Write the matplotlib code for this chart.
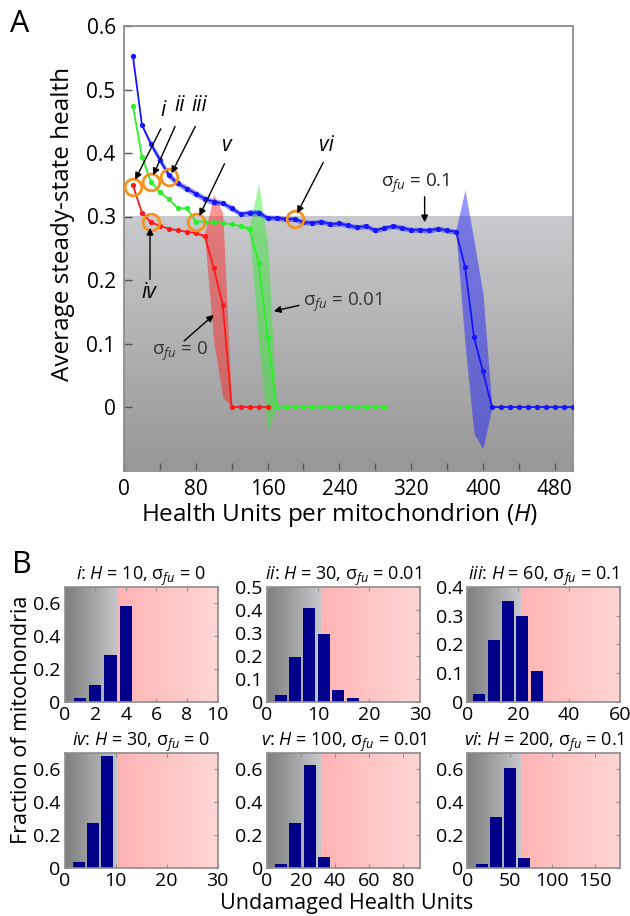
import numpy as np
import matplotlib
matplotlib.use('Agg')
import matplotlib.pyplot as plt
from matplotlib.colors import LinearSegmentedColormap

plt.rcParams['font.family'] = ['Open Sans', 'DejaVu Sans']
plt.rcParams['mathtext.fontset'] = 'custom'
plt.rcParams['mathtext.rm'] = 'Open Sans'
plt.rcParams['mathtext.it'] = 'Open Sans:italic'

# ---- panel A: average steady-state health vs H ----
H_red = [10, 20, 30, 40, 50, 60, 70, 80, 90, 100, 110, 120, 130, 140, 150, 160]
red = [0.349, 0.306, 0.291, 0.285, 0.281, 0.278, 0.276, 0.274, 0.269, 0.219, 0.161,
       0, 0, 0, 0, 0]
red_sd = [0, 0, 0, 0, 0, 0, 0, 0, 0.004, 0.116, 0.145, 0, 0, 0, 0, 0]

H_green = [10, 20, 30, 40, 50, 60, 70, 80, 90, 100, 110, 120, 130, 140, 150, 160,
           170, 180, 190, 200, 210, 220, 230, 240, 250, 260, 270, 280, 290]
green = [0.474, 0.394, 0.355, 0.338, 0.327, 0.313, 0.313, 0.292, 0.292, 0.291, 0.289,
         0.288, 0.285, 0.280, 0.227, 0.111,
         0, 0, 0, 0, 0, 0, 0, 0, 0, 0, 0, 0, 0]
green_sd = [0, 0, 0, 0, 0, 0, 0, 0, 0, 0, 0, 0, 0, 0.006, 0.125, 0.148,
            0, 0, 0, 0, 0, 0, 0, 0, 0, 0, 0, 0, 0]

H_blue = [10, 20, 30, 40, 50, 60, 70, 80, 90, 100, 110, 120, 130, 140, 150, 160, 170,
          180, 190, 200, 210, 220, 230, 240, 250, 260, 270, 280, 290, 300, 310, 320,
          330, 340, 350, 360, 370, 380, 390, 400, 410, 420, 430, 440, 450, 460, 470,
          480, 490, 500]
blue = [0.552, 0.444, 0.414, 0.389, 0.365, 0.352, 0.344, 0.336, 0.328, 0.323, 0.321,
        0.313, 0.304, 0.306, 0.306, 0.298, 0.298, 0.296, 0.296, 0.291, 0.290, 0.292,
        0.288, 0.289, 0.286, 0.283, 0.285, 0.278, 0.282, 0.285, 0.282, 0.279, 0.279,
        0.278, 0.281, 0.278, 0.276, 0.221, 0.110, 0.056,
        0, 0, 0, 0, 0, 0, 0, 0, 0, 0]
blue_sd = [0, 0.002, 0.005, 0.006, 0.006, 0.005, 0.005, 0.005, 0.005, 0.005, 0.004,
           0.005, 0.004, 0.005, 0.005, 0.004, 0.004, 0.004, 0.004, 0.004, 0.004, 0.004,
           0.004, 0.004, 0.004, 0.004, 0.004, 0.004, 0.004, 0.004, 0.004, 0.004, 0.004,
           0.004, 0.004, 0.004, 0.004, 0.121, 0.152, 0.122,
           0, 0, 0, 0, 0, 0, 0, 0, 0, 0]

# highlighted cases i..vi (position on the curves, label position, arrow start)
case_names = ['i', 'ii', 'iii', 'iv', 'v', 'vi']
case_x = [10, 30, 50, 30, 80, 190]
case_y = [0.347, 0.355, 0.362, 0.292, 0.292, 0.296]
case_lab_xy = [(44, 0.450), (62, 0.458), (84, 0.458), (28, 0.197), (115, 0.395), (226, 0.395)]
case_va = ['bottom', 'bottom', 'bottom', 'top', 'bottom', 'bottom']
case_tail = [(41, 0.438), (57, 0.442), (79.5, 0.442), (29, 0.201), (112, 0.383), (222, 0.385)]
case_head = [(12.5, 0.358), (32.5, 0.365), (53, 0.368), (29, 0.282), (84, 0.301), (193, 0.305)]

# ---- panel B: histograms ----
titles = [r'$i$: $H$ = 10, σ$_{fu}$ = 0', r'$ii$: $H$ = 30, σ$_{fu}$ = 0.01',
          r'$iii$: $H$ = 60, σ$_{fu}$ = 0.1', r'$iv$: $H$ = 30, σ$_{fu}$ = 0',
          r'$v$: $H$ = 100, σ$_{fu}$ = 0.01', r'$vi$: $H$ = 200, σ$_{fu}$ = 0.1']
bin_x = [[0, 1, 2, 3, 4],
         [0, 2.7, 5.5, 8.3, 11.2, 14.0, 16.9, 19.7],
         [0, 4.6, 10.3, 15.9, 21.6, 27.3, 33.0],
         [2.8, 5.6, 8.4],
         [8.3, 16.7, 25.1, 33.4],
         [17.4, 34.0, 50.6, 66.8]]
frac = [[0.003, 0.024, 0.104, 0.284, 0.585],
        [0.002, 0.033, 0.196, 0.408, 0.296, 0.052, 0.017, 0.002],
        [0.002, 0.027, 0.215, 0.350, 0.300, 0.108, 0.002],
        [0.040, 0.275, 0.680],
        [0.028, 0.275, 0.625, 0.065],
        [0.025, 0.308, 0.605, 0.060]]
bar_w = [0.82, 2.35, 4.7, 2.35, 7.0, 13.7]
x_max = [10, 30, 60, 30, 90, 180]
y_max = [0.7, 0.5, 0.4, 0.7, 0.7, 0.7]
x_ticks = [[0, 2, 4, 6, 8, 10], [0, 10, 20, 30], [0, 20, 40, 60], [0, 10, 20, 30],
           [0, 20, 40, 60, 80], [0, 50, 100, 150]]
y_ticks = [[0, 0.2, 0.4, 0.6], [0, 0.1, 0.2, 0.3, 0.4, 0.5], [0, 0.1, 0.2, 0.3, 0.4],
           [0, 0.2, 0.4, 0.6], [0, 0.2, 0.4, 0.6], [0, 0.2, 0.4, 0.6]]

spine_col = '#8e8e8e'
arrow = dict(arrowstyle='-|>', color='k', lw=1, mutation_scale=10, shrinkA=0, shrinkB=0)
fig = plt.figure(figsize=(6.3, 9.16), dpi=100)

# ---------- A ----------
ax = fig.add_axes([124 / 630, 1 - 470.5 / 916, 448.7 / 630, 444.5 / 916])
bg = LinearSegmentedColormap.from_list('bg', ['#979797', '#c9cacd'])
ax.imshow(np.linspace(0, 1, 256)[:, None], extent=[0, 500, -0.1, 0.3], origin='lower',
          cmap=bg, aspect='auto', zorder=0)

for xs, ys, sd, c in [(H_red, red, red_sd, '#ff1a1a'), (H_green, green, green_sd, '#2bf02b'),
                      (H_blue, blue, blue_sd, '#1515ff')]:
    ys = np.array(ys)
    sd = np.array(sd)
    ax.fill_between(xs, ys - sd, ys + sd, color=c, alpha=0.45, lw=0, zorder=2)
for xs, ys, c in [(H_red, red, '#ff1a1a'), (H_green, green, '#2bf02b'), (H_blue, blue, '#1515ff')]:
    ax.plot(xs, ys, '-o', color=c, lw=1.3, ms=2.8, zorder=3)

ax.plot(case_x, case_y, 'o', ms=12, mfc='none', mec='#f7921e', mew=2, zorder=5)
for name, lab, va, tail, head in zip(case_names, case_lab_xy, case_va, case_tail, case_head):
    ax.text(lab[0], lab[1], name, style='italic', fontsize=15, ha='center', va=va, zorder=6)
    ax.annotate('', xy=head, xytext=tail, zorder=6, arrowprops=arrow)

ax.text(325, 0.352, r'σ$_{fu}$ = 0.1', fontsize=13.5, ha='center', va='center', color='#222222')
ax.annotate('', xy=(335, 0.291), xytext=(335, 0.331), arrowprops=arrow)
ax.text(244, 0.165, r'σ$_{fu}$ = 0.01', fontsize=13.5, ha='center', va='center', color='#333333')
ax.annotate('', xy=(167, 0.151), xytext=(195, 0.160), arrowprops=arrow)
ax.text(63, 0.087, r'σ$_{fu}$ = 0', fontsize=13.5, ha='center', va='center', color='#333333')
ax.annotate('', xy=(100, 0.145), xytext=(67, 0.104), arrowprops=arrow)

ax.set_xlim(0, 500)
ax.set_ylim(-0.1, 0.6)
ax.set_xticks(range(0, 481, 40))
ax.set_xticklabels([str(v) if v % 80 == 0 else '' for v in range(0, 481, 40)])
ax.set_yticks([0, 0.1, 0.2, 0.3, 0.4, 0.5, 0.6])
ax.set_yticklabels(['0', '0.1', '0.2', '0.3', '0.4', '0.5', '0.6'])
ax.tick_params(direction='in', length=6, width=1, color='#555555', labelsize=15, pad=6)
for s in ax.spines.values():
    s.set_color(spine_col)
    s.set_linewidth(1.3)
fig.text(63 / 630, 1 - 224 / 916, 'Average steady-state health', rotation=90,
         ha='center', va='center', fontsize=17.5)
fig.text(340 / 630, 1 - 515 / 916, r'Health Units per mitochondrion ($H$)',
         ha='center', va='center', fontsize=17.5)
fig.text(20 / 630, 1 - 24 / 916, 'A', fontsize=22, ha='center', va='center')
fig.text(22 / 630, 1 - 565 / 916, 'B', fontsize=22, ha='center', va='center')

# ---------- B ----------
gray_cm = LinearSegmentedColormap.from_list('g', ['#7e7e7e', '#c6c8cb'])
pink_cm = LinearSegmentedColormap.from_list('p', ['#ffb4b4', '#ffd6d6'])
lefts = [64.6, 267, 467.3]
tops = [586.7, 752.7]
for k in range(6):
    r, c = divmod(k, 3)
    bx = fig.add_axes([lefts[c] / 630, 1 - (tops[r] + 115.5) / 916, 153 / 630, 115.5 / 916])
    xm, ym = x_max[k], y_max[k]
    thr = 0.35 * xm
    grad = np.linspace(0, 1, 256)[None, :]
    bx.imshow(grad, extent=[0, thr, 0, ym], cmap=gray_cm, aspect='auto', zorder=0)
    bx.imshow(grad, extent=[thr, xm, 0, ym], cmap=pink_cm, aspect='auto', zorder=0)
    bx.bar(bin_x[k], frac[k], width=bar_w[k], color='#00008b', zorder=2)
    bx.set_xlim(0, xm)
    bx.set_ylim(0, ym)
    bx.set_xticks(x_ticks[k])
    bx.set_yticks(y_ticks[k])
    bx.set_yticklabels(['0' if v == 0 else ('%.1f' % v) for v in y_ticks[k]])
    bx.tick_params(direction='in', length=3, color=spine_col, labelsize=14, pad=3,
                   top=True, right=True)
    for s in bx.spines.values():
        s.set_color(spine_col)
        s.set_linewidth(1.2)
    bx.set_title(titles[k], fontsize=13, pad=5)

fig.text(22 / 630, 1 - 720 / 916, 'Fraction of mitochondria', rotation=90,
         ha='center', va='center', fontsize=15.5)
fig.text(347 / 630, 1 - 903 / 916, 'Undamaged Health Units', ha='center', va='center',
         fontsize=15.5)

fig.savefig('out.png', dpi=100)
